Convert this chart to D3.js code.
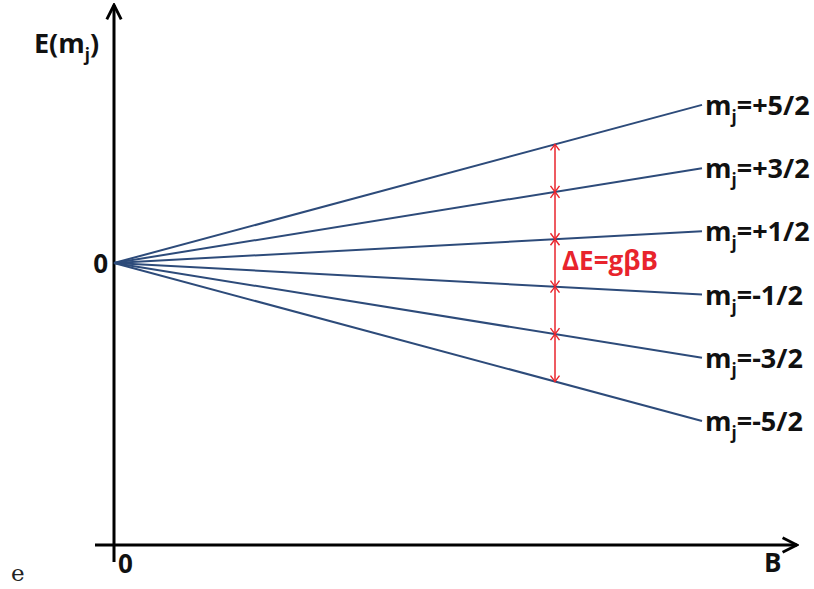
<!DOCTYPE html>
<html>
<head>
<meta charset="utf-8">
<script src="https://cdn.jsdelivr.net/npm/d3@7"></script>
<style>
  body { margin: 0; background: #fff; }
  text { font-family: "Open Sans", "Noto Sans", sans-serif; font-weight: 700; }
</style>
</head>
<body>
<div class="canvas"></div>
<script>
'use strict';

// Zeeman levels: m_j values and their labels
const levels = [2.5, 1.5, 0.5, -0.5, -1.5, -2.5];
const levelLabels = ['+5/2', '+3/2', '+1/2', '-1/2', '-3/2', '-5/2'];
const bEnd = 1;       // field where lines stop
const bMark = 0.75;   // field where the splitting arrows sit
const originLabel = '0';

const width = 814;
const height = 589;

const svg = d3
  .select('.canvas')
  .append('svg')
  .attr('width', width)
  .attr('height', height);

const x = d3.scaleLinear().domain([0, 1]).range([114, 702]);
const y = d3.scaleLinear().domain([-4.46, 4.08]).range([545, 5]);

const lineColor = '#2d4b7a';
const red = '#e8242c';

// arrow heads
const defs = svg.append('defs');
defs
  .append('marker')
  .attr('id', 'axisHead')
  .attr('viewBox', '0 0 10 10')
  .attr('refX', 9)
  .attr('refY', 5)
  .attr('markerWidth', 6)
  .attr('markerHeight', 6)
  .attr('markerUnits', 'strokeWidth')
  .attr('orient', 'auto')
  .append('path')
  .attr('d', 'M1,1 L9,5 L1,9')
  .attr('fill', 'none')
  .attr('stroke', '#000')
  .attr('stroke-width', 1.6);

defs
  .append('marker')
  .attr('id', 'redHead')
  .attr('viewBox', '0 0 12 12')
  .attr('refX', 11)
  .attr('refY', 6)
  .attr('markerWidth', 12)
  .attr('markerHeight', 12)
  .attr('markerUnits', 'userSpaceOnUse')
  .attr('orient', 'auto-start-reverse')
  .append('path')
  .attr('d', 'M5,1.5 L11,6 L5,10.5')
  .attr('fill', 'none')
  .attr('stroke', red)
  .attr('stroke-width', 1.4);

// axes
svg
  .append('line')
  .attr('x1', x(0))
  .attr('x2', x(0))
  .attr('y1', 562)
  .attr('y2', y(y.domain()[1]))
  .attr('stroke', '#000')
  .attr('stroke-width', 3)
  .attr('marker-end', 'url(#axisHead)');

svg
  .append('line')
  .attr('x1', 95)
  .attr('x2', 797)
  .attr('y1', y(y.domain()[0]))
  .attr('y2', y(y.domain()[0]))
  .attr('stroke', '#000')
  .attr('stroke-width', 3)
  .attr('marker-end', 'url(#axisHead)');

// energy levels
const graph = svg.append('g');
graph
  .selectAll('line.level')
  .data(levels)
  .enter()
  .append('line')
  .attr('class', 'level')
  .attr('x1', x(0))
  .attr('y1', y(0))
  .attr('x2', x(bEnd))
  .attr('y2', d => y(d * bEnd))
  .attr('stroke', lineColor)
  .attr('stroke-width', 2);

const mjLabel = graph
  .selectAll('text.mj')
  .data(levels)
  .enter()
  .append('text')
  .attr('class', 'mj')
  .attr('x', x(bEnd) + 3)
  .attr('y', d => y(d * bEnd) + 10)
  .attr('font-size', 27)
  .attr('fill', '#111');
mjLabel.append('tspan').text('m');
mjLabel
  .append('tspan')
  .attr('font-size', 17)
  .attr('dy', 8)
  .text('j');
mjLabel
  .append('tspan')
  .attr('dy', -8)
  .text((d, i) => '=' + levelLabels[i]);

// splitting arrows
const pairs = d3.pairs(levels);
graph
  .selectAll('line.gap')
  .data(pairs)
  .enter()
  .append('line')
  .attr('class', 'gap')
  .attr('x1', x(bMark))
  .attr('x2', x(bMark))
  .attr('y1', d => y(d[0] * bMark))
  .attr('y2', d => y(d[1] * bMark))
  .attr('stroke', red)
  .attr('stroke-width', 1.5)
  .attr('marker-start', 'url(#redHead)')
  .attr('marker-end', 'url(#redHead)');

svg
  .append('text')
  .attr('x', x(bMark) + 7)
  .attr('y', y(0) + 7)
  .attr('font-size', 26)
  .attr('fill', red)
  .text('ΔE=gβB');

// axis labels
const eLabel = svg
  .append('text')
  .attr('x', 34)
  .attr('y', 53)
  .attr('font-size', 27)
  .attr('fill', '#111');
eLabel.append('tspan').text('E(m');
eLabel.append('tspan').attr('font-size', 17).attr('dy', 8).text('j');
eLabel.append('tspan').attr('dy', -8).text(')');

svg
  .append('text')
  .attr('x', x(0) - 6)
  .attr('y', y(0) + 10)
  .attr('text-anchor', 'end')
  .attr('font-size', 26)
  .attr('fill', '#111')
  .text(originLabel);

svg
  .append('text')
  .attr('x', x(0) + 4)
  .attr('y', 573)
  .attr('font-size', 26)
  .attr('fill', '#111')
  .text(originLabel);

svg
  .append('text')
  .attr('x', 764)
  .attr('y', 572)
  .attr('font-size', 26)
  .attr('fill', '#111')
  .text('B');

svg
  .append('text')
  .attr('x', 11)
  .attr('y', 581)
  .attr('font-size', 23)
  .style('font-family', '"DejaVu Serif", serif')
  .style('font-weight', 400)
  .attr('fill', '#222')
  .text('e');
</script>
</body>
</html>
